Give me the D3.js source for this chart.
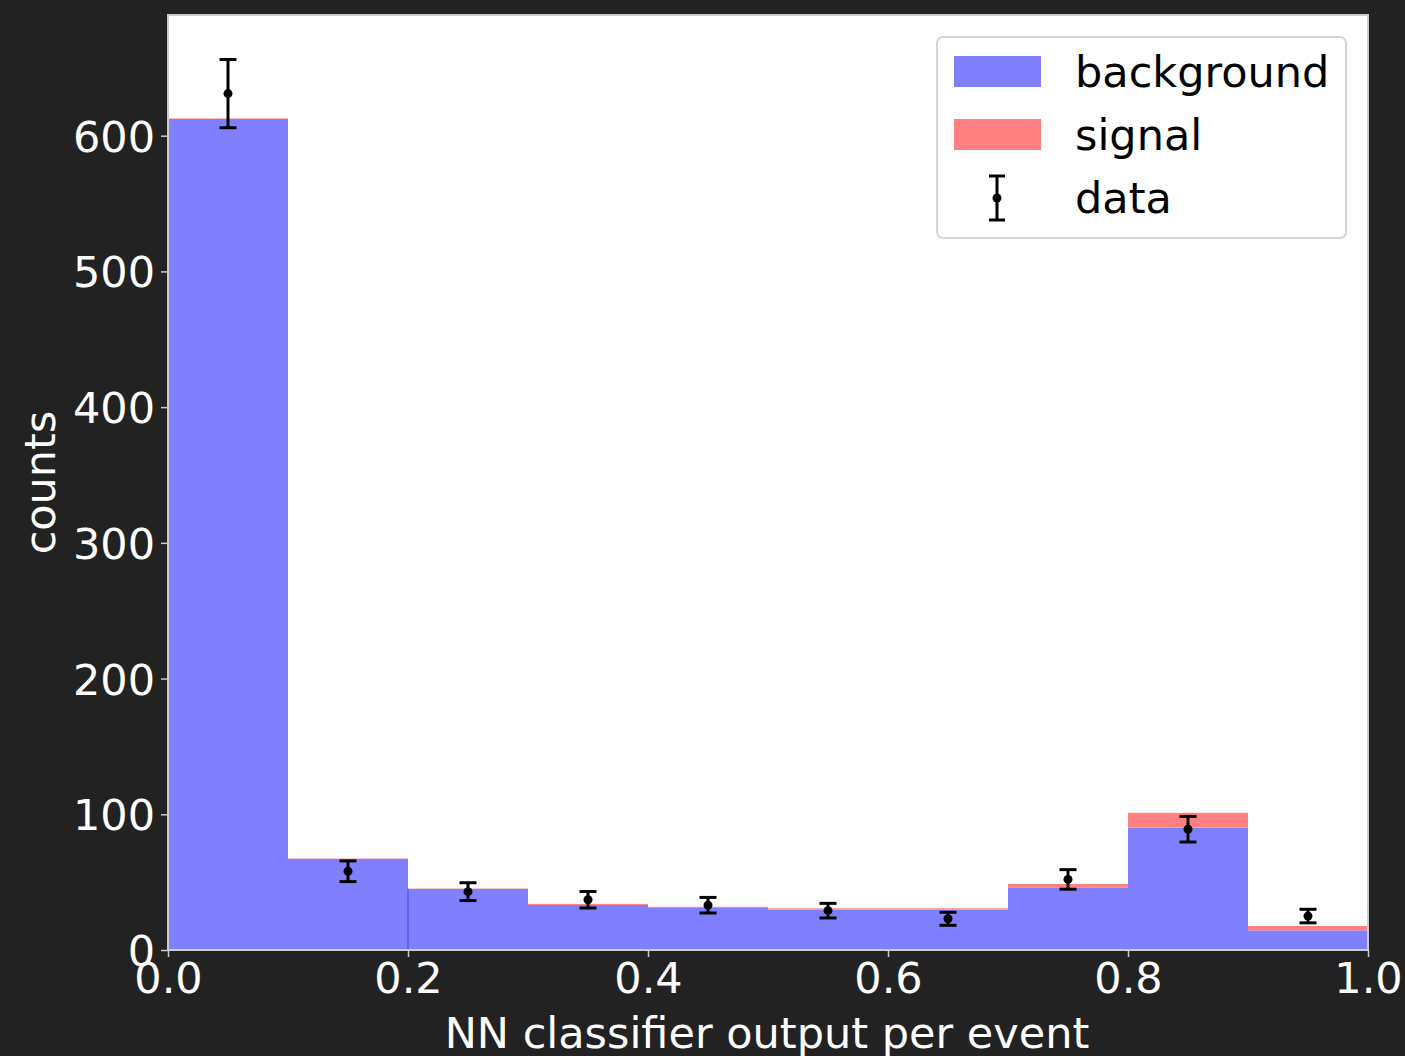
<!DOCTYPE html>
<html lang="en">
<head>
<meta charset="UTF-8">
<title>NN classifier output</title>
<script src="https://d3js.org/d3.v7.min.js"></script>
<style>
    body { margin: 0; background: #222222; font-family: "DejaVu Sans", sans-serif; }
    svg { display: block; }
    .tick text { fill: #ffffff; font-size: 43px; font-family: "DejaVu Sans", sans-serif; }
    .tick line { stroke: #cccccc; stroke-width: 1.5; }
    .domain { display: none; }
</style>
</head>
<body>
<svg id="chart" width="1405" height="1056"></svg>
<script>
    // bin edges and stacked histogram contents
    const binEdges = [0, 0.1, 0.2, 0.3, 0.4, 0.5, 0.6, 0.7, 0.8, 0.9, 1.0];
    const background = [612.3, 67.1, 45.0, 33.2, 31.5, 29.7, 29.7, 45.9, 90.1, 14.5];
    const signal = [0.4, 0.3, 0.3, 0.8, 0.3, 1.0, 1.0, 2.7, 11.0, 3.2];
    const dataCounts = [631, 58, 43, 37, 33, 29, 23, 52, 89, 25];
    const xTicks = [0, 0.2, 0.4, 0.6, 0.8, 1.0];
    const yTicks = [0, 100, 200, 300, 400, 500, 600];

    const margin = { top: 15, right: 37, bottom: 106, left: 168 };
    const W = 1405, H = 1056;
    const width = W - margin.left - margin.right,
          height = H - margin.top - margin.bottom;

    const svg = d3.select("#chart");
    const g = svg.append("g").attr("transform", `translate(${margin.left},${margin.top})`);

    const x = d3.scaleLinear().domain([0, 1]).range([0, width]);
    const yMax = d3.max(dataCounts, d => d + Math.sqrt(d)) * 1.05;
    const y = d3.scaleLinear().domain([0, yMax]).range([height, 0]);

    g.append("rect").attr("width", width).attr("height", height).attr("fill", "#ffffff");

    const bins = background.map((b, i) => ({
        x0: binEdges[i], x1: binEdges[i + 1], bg: b, sig: signal[i], data: dataCounts[i]
    }));

    // background bars
    g.selectAll(".bg").data(bins).enter().append("rect")
        .attr("x", d => x(d.x0))
        .attr("width", d => x(d.x1) - x(d.x0))
        .attr("y", d => y(d.bg))
        .attr("height", d => y(0) - y(d.bg))
        .attr("fill", "#8080ff");

    // signal stacked on top
    g.selectAll(".sig").data(bins).enter().append("rect")
        .attr("x", d => x(d.x0))
        .attr("width", d => x(d.x1) - x(d.x0))
        .attr("y", d => y(d.bg + d.sig))
        .attr("height", d => y(d.bg) - y(d.bg + d.sig))
        .attr("fill", "#ff8080");

    // little edge artefact at 0.2
    g.append("line")
        .attr("x1", x(0.2)).attr("x2", x(0.2))
        .attr("y1", y(0)).attr("y2", y(background[2]))
        .attr("stroke", "#4040ff").attr("stroke-width", 1);

    // data error bars
    const cap = 8.5;
    const eb = g.selectAll(".err").data(bins).enter().append("g")
        .attr("transform", d => `translate(${x((d.x0 + d.x1) / 2)},0)`);
    eb.append("line")
        .attr("y1", d => y(d.data - Math.sqrt(d.data)))
        .attr("y2", d => y(d.data + Math.sqrt(d.data)))
        .attr("stroke", "#000").attr("stroke-width", 3);
    eb.append("line")
        .attr("x1", -cap).attr("x2", cap)
        .attr("y1", d => y(d.data + Math.sqrt(d.data)))
        .attr("y2", d => y(d.data + Math.sqrt(d.data)))
        .attr("stroke", "#000").attr("stroke-width", 3);
    eb.append("line")
        .attr("x1", -cap).attr("x2", cap)
        .attr("y1", d => y(d.data - Math.sqrt(d.data)))
        .attr("y2", d => y(d.data - Math.sqrt(d.data)))
        .attr("stroke", "#000").attr("stroke-width", 3);
    eb.append("circle")
        .attr("cy", d => y(d.data)).attr("r", 4.5).attr("fill", "#000");

    // frame
    g.append("rect").attr("width", width).attr("height", height)
        .attr("fill", "none").attr("stroke", "#cccccc").attr("stroke-width", 2);

    // axes
    g.append("g")
        .attr("transform", `translate(0,${height})`)
        .call(d3.axisBottom(x).tickValues(xTicks).tickFormat(d3.format(".1f")).tickSize(7).tickPadding(5));
    g.append("g")
        .call(d3.axisLeft(y).tickValues(yTicks).tickSize(7).tickPadding(6))
        .selectAll("text").attr("dy", "0.36em");

    svg.append("text")
        .attr("x", margin.left + width / 2 - 1).attr("y", 1048)
        .attr("text-anchor", "middle").attr("fill", "#ffffff")
        .attr("font-size", 43).text("NN classifier output per event");
    svg.append("text")
        .attr("transform", `translate(55,${margin.top + height / 2}) rotate(-90)`)
        .attr("text-anchor", "middle").attr("fill", "#ffffff")
        .attr("font-size", 43).text("counts");

    // legend
    const lg = svg.append("g").attr("transform", "translate(937,37)");
    lg.append("rect").attr("width", 409).attr("height", 201).attr("rx", 6)
        .attr("fill", "#ffffff").attr("stroke", "#d6d6d6").attr("stroke-width", 2);
    const legendItems = [
        { label: "background", color: "#8080ff" },
        { label: "signal", color: "#ff8080" },
        { label: "data", color: null }
    ];
    legendItems.forEach((it, i) => {
        const cy = 35 + i * 63;
        if (it.color) {
            lg.append("rect").attr("x", 17).attr("y", cy - 16).attr("width", 87).attr("height", 31)
                .attr("fill", it.color);
        } else {
            lg.append("line").attr("x1", 60).attr("x2", 60).attr("y1", cy - 22).attr("y2", cy + 22)
                .attr("stroke", "#000").attr("stroke-width", 3);
            lg.append("line").attr("x1", 52).attr("x2", 68).attr("y1", cy - 22).attr("y2", cy - 22)
                .attr("stroke", "#000").attr("stroke-width", 3);
            lg.append("line").attr("x1", 52).attr("x2", 68).attr("y1", cy + 22).attr("y2", cy + 22)
                .attr("stroke", "#000").attr("stroke-width", 3);
            lg.append("circle").attr("cx", 60).attr("cy", cy).attr("r", 4.5).attr("fill", "#000");
        }
        lg.append("text").attr("x", 138).attr("y", cy).attr("dy", "0.36em")
            .attr("font-size", 43).attr("fill", "#000").text(it.label);
    });
</script>
</body>
</html>
